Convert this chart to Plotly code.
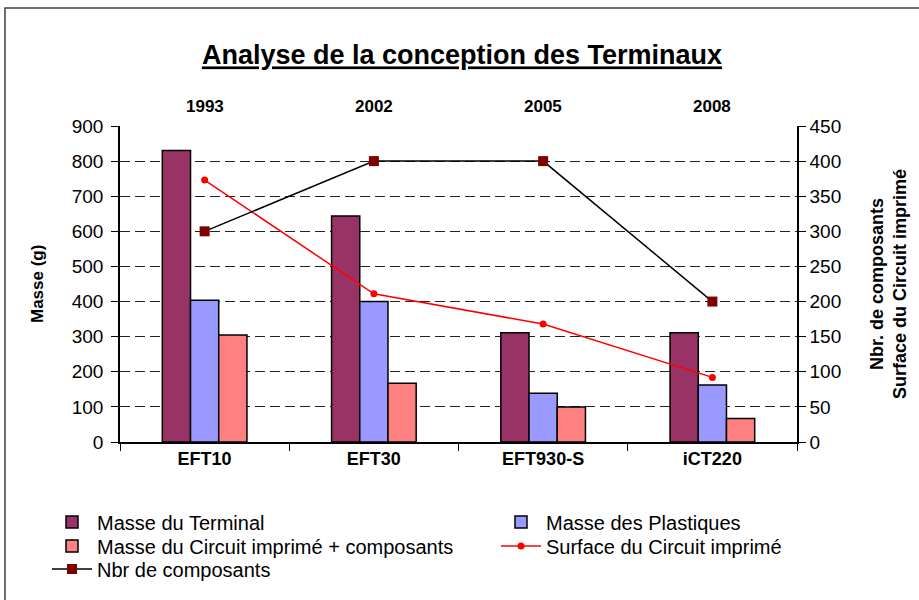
import plotly.graph_objects as go

categories = ["EFT10", "EFT30", "EFT930-S", "iCT220"]
years = ["1993", "2002", "2005", "2008"]
masse_terminal = [830, 644, 311, 311]
masse_plastiques = [404, 400, 139, 162]
masse_circuit = [305, 167, 100, 67]
surface_circuit = [373, 211, 168, 92]
nbr_composants = [300, 400, 400, 200]

FONT = "Liberation Sans, Arial, sans-serif"
W, H = 919, 600
L, R, T, B = 120, 122, 126, 158
PW, PH = W - L - R, H - T - B

fig = go.Figure()
fig.add_trace(go.Bar(x=categories, y=masse_terminal, name="Masse du Terminal", legend="legend",
                     marker=dict(color="#993366", line=dict(color="black", width=1.5))))
fig.add_trace(go.Bar(x=categories, y=masse_plastiques, name="Masse des Plastiques", legend="legend2",
                     marker=dict(color="#9999FF", line=dict(color="black", width=1.5))))
fig.add_trace(go.Bar(x=categories, y=masse_circuit, name="Masse du Circuit imprimé + composants",
                     legend="legend3",
                     marker=dict(color="#FF8080", line=dict(color="black", width=1.5))))
fig.add_trace(go.Scatter(x=categories, y=surface_circuit, name="Surface du Circuit imprimé",
                         yaxis="y2", mode="lines+markers", legend="legend4",
                         line=dict(color="#FF0000", width=1.5),
                         marker=dict(color="#FF0000", size=7, symbol="circle")))
fig.add_trace(go.Scatter(x=categories, y=nbr_composants, name="Nbr de composants",
                         yaxis="y2", mode="lines+markers", legend="legend5",
                         line=dict(color="black", width=1.5),
                         marker=dict(color="#800000", size=10, symbol="square")))

annotations = []
for c, yr in zip(categories, years):
    annotations.append(dict(x=c, y=(442 - 107) / PH, xref="x", yref="paper", text="<b>" + yr + "</b>",
                            xanchor="center", yanchor="middle",
                            showarrow=False, font=dict(family=FONT, size=17, color="black")))
annotations.append(dict(x=(37 - L) / PW, y=0.5, xref="paper", yref="paper", text="<b>Masse (g)</b>",
                        xanchor="center", yanchor="middle",
                        textangle=-90, showarrow=False, font=dict(family=FONT, size=17, color="black")))
annotations.append(dict(x=(888 - L) / PW, y=0.5, xref="paper", yref="paper",
                        text="<b>Nbr. de composants<br>Surface du Circuit imprimé</b>",
                        xanchor="center", yanchor="middle",
                        textangle=-90, showarrow=False, font=dict(family=FONT, size=18, color="black")))

shapes = [dict(type="rect", xref="paper", yref="paper",
               x0=(5 - L) / PW, x1=(935 - L) / PW,
               y0=(H - B - 615) / PH, y1=(H - B - 8) / PH,
               line=dict(color="#404040", width=1.5), fillcolor="rgba(0,0,0,0)", layer="below")]


def legend_item(xleft, ycenter):
    return dict(orientation="h", xref="container", yref="container",
                x=xleft / W, y=1 - ycenter / H, xanchor="left", yanchor="middle",
                font=dict(family=FONT, size=20, color="black"),
                itemwidth=40, bgcolor="rgba(0,0,0,0)")


fig.update_layout(
    width=W, height=H,
    margin=dict(l=L, r=R, t=T, b=B),
    paper_bgcolor="white", plot_bgcolor="white",
    font=dict(family=FONT, color="black"),
    title=dict(text="<b><u>Analyse de la conception des Terminaux</u></b>",
               x=462 / W, xref="container", y=1 - 55 / H, yref="container",
               xanchor="center", yanchor="middle",
               font=dict(family=FONT, size=27, color="black")),
    barmode="group", bargap=0.5, bargroupgap=0,
    showlegend=True,
    legend=legend_item(47, 522),
    legend2=legend_item(496, 522),
    legend3=legend_item(47, 546),
    legend4=legend_item(496, 546),
    legend5=legend_item(47, 569),
    xaxis=dict(showline=True, linecolor="black", linewidth=1.5, ticks="outside",
               tickson="boundaries", ticklen=7, tickcolor="black",
               tickfont=dict(family=FONT, size=18, color="black"),
               tickprefix="<b>", ticksuffix="</b>", showgrid=False),
    yaxis=dict(range=[0, 900], dtick=100, showline=True, linecolor="black", linewidth=1.5,
               ticks="outside", ticklen=7, tickcolor="black", ticklabelstandoff=4,
               tickfont=dict(family=FONT, size=19, color="black"),
               showgrid=True, gridcolor="#222222", griddash="10px,5px", gridwidth=1,
               zeroline=False),
    yaxis2=dict(range=[0, 450], dtick=50, overlaying="y", side="right", showline=True,
                linecolor="black", linewidth=1.5, ticks="outside", ticklen=7, tickcolor="black",
                tickfont=dict(family=FONT, size=19, color="black"),
                showgrid=False, zeroline=False),
    annotations=annotations,
    shapes=shapes,
)

fig.write_html("out.html", config={"displayModeBar": False},
               post_script="document.body.style.margin='0';")
